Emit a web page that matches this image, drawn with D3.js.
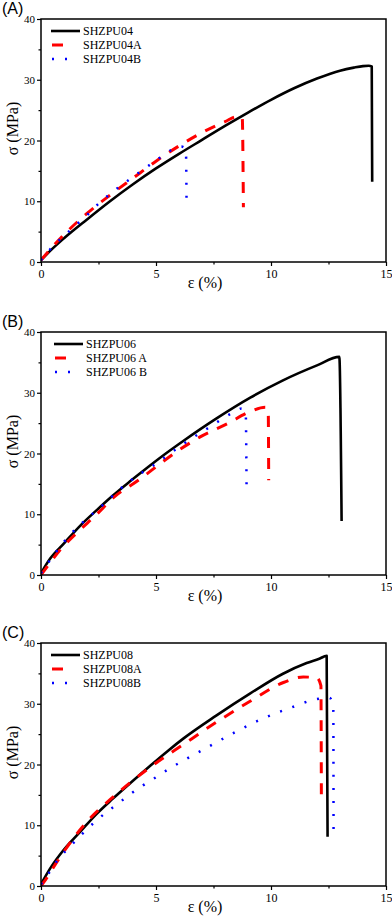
<!DOCTYPE html>
<html><head><meta charset="utf-8">
<script src="https://cdn.jsdelivr.net/npm/d3@7"></script>
<style>html,body{margin:0;padding:0;background:#fff;}svg{display:block;}
.serif{font-family:"Liberation Serif","Times New Roman",serif;}
.sans{font-family:"Liberation Sans",Arial,sans-serif;}
</style>
</head><body>
<script>
// ---- data ----
const xTicks = [0, 5, 10, 15];
const yTicks = [0, 10, 20, 30, 40];
const panelLabels = ["(A)", "(B)", "(C)"];
const xTitle = "ε (%)";
const yTitle = "σ (MPa)";

const namesA = ["SHZPU04", "SHZPU04A", "SHZPU04B"];
const namesB = ["SHZPU06", "SHZPU06 A", "SHZPU06 B"];
const namesC = ["SHZPU08", "SHZPU08A", "SHZPU08B"];

// Panel A
const strainA0 = [0, 0.5, 1, 2, 3, 4, 5, 6, 7, 8, 9, 10, 11, 12, 13, 13.6, 14.0, 14.25, 14.38, 14.4];
const stressA0 = [0.3, 2.2, 3.9, 7.0, 10.0, 12.8, 15.4, 17.8, 20.1, 22.4, 24.6, 26.7, 28.6, 30.2, 31.5, 32.0, 32.25, 32.3, 32.2, 13.2];
const strainA1 = [0, 0.5, 1, 2, 3, 4, 5, 6, 7, 8, 8.5, 8.75, 8.8];
const stressA1 = [0.3, 2.5, 4.5, 8.0, 11.0, 13.8, 16.6, 19.1, 21.3, 23.1, 23.9, 23.8, 9.0];
const strainA2 = [0, 0.5, 1, 1.5, 2, 2.5, 3, 4, 5, 5.7, 6.1, 6.3, 6.33];
const stressA2 = [0.3, 2.5, 4.3, 6.0, 7.7, 9.6, 11.2, 14.0, 16.7, 18.5, 19.0, 18.6, 8.8];

// Panel B
const strainB0 = [0, 0.4, 1, 1.7, 2.4, 3.1, 3.9, 4.7, 5.5, 6.2, 7.6, 9.1, 10.5, 12, 12.97, 13.07];
const stressB0 = [0.3, 2.7, 5.2, 8.1, 10.6, 13.0, 15.5, 17.9, 20.2, 22.1, 25.7, 29.2, 32.0, 34.5, 35.9, 8.9];
const strainB1 = [0, 0.1, 0.8, 1.6, 2.4, 3.2, 4.2, 5.0, 5.9, 6.9, 8.1, 9.1, 9.75, 9.88, 9.9];
const stressB1 = [0, 0.5, 4.0, 7.1, 9.9, 12.9, 15.5, 17.8, 20.3, 22.7, 24.9, 26.9, 27.6, 27.0, 15.6];
const strainB2 = [0, 0.5, 1.26, 1.77, 2.86, 3.36, 4.45, 5.03, 6.12, 7.27, 8.43, 8.72, 8.9, 8.94];
const stressB2 = [0.3, 3.0, 6.6, 8.5, 12.1, 13.9, 17.0, 18.4, 21.4, 24.2, 26.9, 27.4, 26.8, 13.3];

// Panel C
const strainC0 = [0, 0.4, 1, 1.7, 2.4, 3.1, 3.9, 4.75, 5.5, 6.2, 7.6, 9.1, 10.5, 11.55, 12.1, 12.42, 12.46];
const stressC0 = [0.3, 2.9, 6.0, 8.9, 11.8, 14.3, 17.0, 19.8, 22.2, 24.3, 28.0, 31.7, 34.9, 36.7, 37.4, 37.9, 8.1];
const strainC1 = [0, 0.1, 0.75, 1.4, 2.2, 3.0, 3.87, 4.8, 6.19, 7.64, 9.09, 10.54, 11.4, 11.99, 12.17, 12.19];
const stressC1 = [0, 0.5, 4.3, 7.8, 11.4, 14.2, 17.0, 19.7, 23.3, 27.0, 30.4, 33.5, 34.4, 34.3, 33.0, 14.2];
const strainC2 = [0, 0.39, 0.75, 1.26, 1.77, 2.27, 2.83, 3.36, 3.91, 4.45, 5.0, 5.53, 6.12, 7.27, 8.43, 9.6, 10.83, 11.91, 12.54, 12.71, 12.72];
const stressC2 = [0.3, 2.4, 4.4, 6.5, 8.5, 10.3, 12.1, 13.6, 15.2, 16.6, 17.9, 19.2, 20.5, 22.9, 25.3, 27.5, 29.3, 30.7, 31.0, 29.5, 7.6];

// ---- build ----
const W = 392, H = 916;
const svg = d3.select("body").append("svg").attr("width", W).attr("height", H);

const styles = [
  {color: "#000000", width: 2.6, dash: null},
  {color: "#ff0000", width: 3, dash: "11,10"},
  {color: "#0000ff", width: 2.5, dash: "2,11"}
];

const panels = [
  {top: 19, label: panelLabels[0], names: namesA, legX: 51,
   series: [[strainA0, stressA0], [strainA1, stressA1], [strainA2, stressA2]]},
  {top: 332, label: panelLabels[1], names: namesB, legX: 54,
   series: [[strainB0, stressB0], [strainB1, stressB1], [strainB2, stressB2]]},
  {top: 643, label: panelLabels[2], names: namesC, legX: 51,
   series: [[strainC0, stressC0], [strainC1, stressC1], [strainC2, stressC2]]}
];

const left = 41, right = 386, ph = 243;

panels.forEach(p => {
  const x = d3.scaleLinear().domain([0, 15]).range([left, right]);
  const y = d3.scaleLinear().domain([0, 40]).range([p.top + ph, p.top]);
  const g = svg.append("g");

  const cid = "clip" + p.top;
  svg.append("clipPath").attr("id", cid).append("rect")
    .attr("x", left).attr("y", p.top).attr("width", right - left).attr("height", ph);

  const line = d3.line().x(d => x(d[0])).y(d => y(d[1])).curve(d3.curveMonotoneX);
  p.series.forEach((s, i) => {
    const pts = s[0].map((v, k) => [v, s[1][k]]);
    g.append("path").attr("d", line(pts))
      .attr("fill", "none").attr("stroke", styles[i].color)
      .attr("stroke-width", styles[i].width)
      .attr("stroke-dasharray", styles[i].dash)
      .attr("stroke-linejoin", "round")
      .attr("clip-path", `url(#${cid})`);
  });

  const xAxis = d3.axisBottom(x).tickValues(xTicks).tickSize(4).tickSizeOuter(0).tickPadding(3)
    .tickFormat(d3.format("d"));
  const xMinor = d3.axisBottom(x).tickValues([2.5, 7.5, 12.5]).tickSize(2.5).tickSizeOuter(0).tickFormat("");
  const yAxis = d3.axisLeft(y).tickValues(yTicks).tickSize(4).tickSizeOuter(0).tickPadding(2)
    .tickFormat(d3.format("d"));
  const yMinor = d3.axisLeft(y).tickValues([5, 15, 25, 35]).tickSize(2.5).tickSizeOuter(0).tickFormat("");

  const gx = g.append("g").attr("transform", `translate(0,${p.top + ph})`).call(xAxis);
  const gxm = g.append("g").attr("transform", `translate(0,${p.top + ph})`).call(xMinor);
  const gy = g.append("g").attr("transform", `translate(${left},0)`).call(yAxis);
  const gym = g.append("g").attr("transform", `translate(${left},0)`).call(yMinor);
  [gx, gxm, gy, gym].forEach(a => {
    a.attr("font-family", null);
    a.select(".domain").remove();
    a.selectAll(".tick line").attr("stroke", "#000").attr("stroke-width", 1.2);
    a.selectAll("text").attr("class", "serif").attr("fill", "#000");
  });
  gx.selectAll("text").attr("font-size", 12);
  gy.selectAll("text").attr("font-size", 11);

  g.append("rect").attr("x", left).attr("y", p.top).attr("width", right - left).attr("height", ph)
    .attr("fill", "none").attr("stroke", "#000").attr("stroke-width", 1.5);

  g.append("text").attr("class", "serif").attr("x", 205).attr("y", p.top + ph + 26)
    .attr("text-anchor", "middle").attr("font-size", 16)
    .text(xTitle);
  g.append("text").attr("class", "serif").attr("transform", `translate(18,${p.top + ph / 2 - 12}) rotate(-90)`)
    .attr("text-anchor", "middle").attr("font-size", 16)
    .text(yTitle);
  g.append("text").attr("class", "sans").attr("x", 2).attr("y", p.top - 5)
    .attr("font-size", 16)
    .text(p.label);

  p.names.forEach((n, i) => {
    const ly = p.top + 12 + i * 14;
    const x2 = i === 0 ? p.legX + 29 : p.legX + 19;
    g.append("line").attr("x1", p.legX + (i === 0 ? 0 : 1)).attr("x2", x2)
      .attr("y1", ly).attr("y2", ly)
      .attr("stroke", styles[i].color).attr("stroke-width", styles[i].width)
      .attr("stroke-dasharray", styles[i].dash);
    g.append("text").attr("class", "serif").attr("x", p.legX + 32).attr("y", ly).attr("dy", "0.35em")
      .attr("font-size", 12).text(n);
  });
});
</script>
</body></html>
